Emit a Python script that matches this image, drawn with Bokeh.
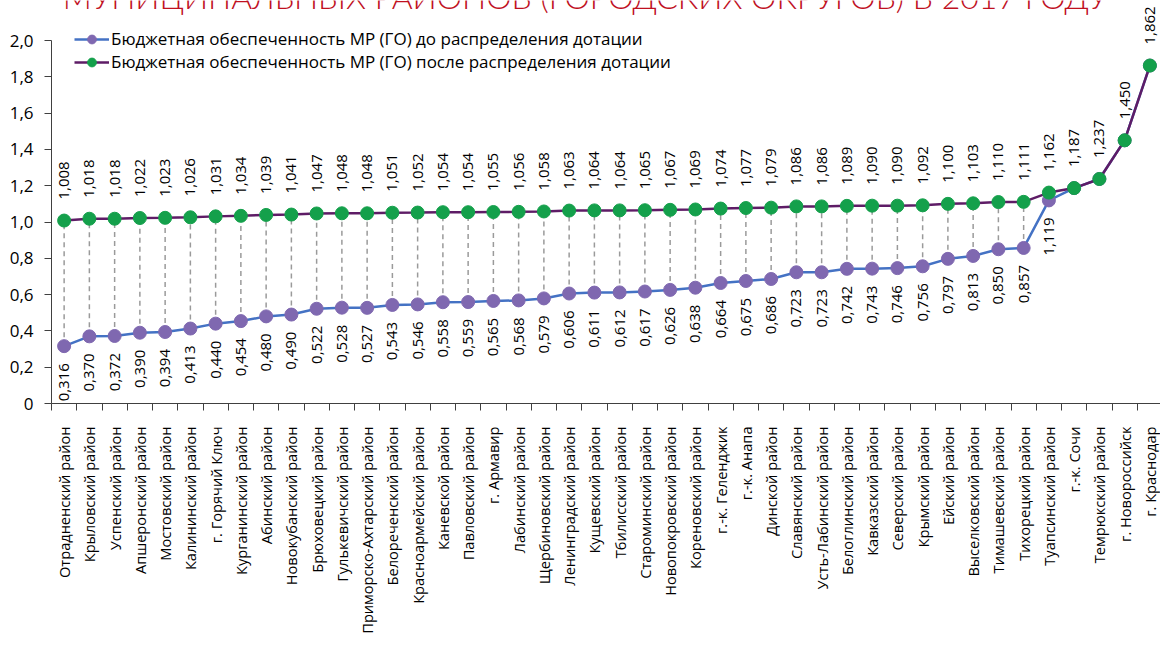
import math
from bokeh.plotting import figure
from bokeh.models import Range1d, FixedTicker, Label, Legend, LegendItem, ColumnDataSource
from bokeh.core.properties import value
from bokeh.embed import file_html
from bokeh.resources import INLINE

# ---------------- data ----------------
categories = [
    "Отрадненский район", "Крыловский район", "Успенский район", "Апшеронский район",
    "Мостовский район", "Калининский район", "г. Горячий Ключ", "Курганинский район",
    "Абинский район", "Новокубанский район", "Брюховецкий район", "Гулькевичский район",
    "Приморско-Ахтарский район", "Белореченский район", "Красноармейский район",
    "Каневской район", "Павловский район", "г. Армавир", "Лабинский район",
    "Щербиновский район", "Ленинградский район", "Кущевский район", "Тбилисский район",
    "Староминский район", "Новопокровский район", "Кореновский район", "г.-к. Геленджик",
    "г.-к. Анапа", "Динской район", "Славянский район", "Усть-Лабинский район",
    "Белоглинский район", "Кавказский район", "Северский район", "Крымский район",
    "Ейский район", "Выселковский район", "Тимашевский район", "Тихорецкий район",
    "Туапсинский район", "г.-к. Сочи", "Темрюкский район", "г. Новороссийск", "г. Краснодар",
]
before = [
    0.316, 0.370, 0.372, 0.390, 0.394, 0.413, 0.440, 0.454, 0.480, 0.490, 0.522,
    0.528, 0.527, 0.543, 0.546, 0.558, 0.559, 0.565, 0.568, 0.579, 0.606, 0.611,
    0.612, 0.617, 0.626, 0.638, 0.664, 0.675, 0.686, 0.723, 0.723, 0.742, 0.743,
    0.746, 0.756, 0.797, 0.813, 0.850, 0.857, 1.119, 1.187, 1.237, 1.450, 1.862,
]
after = [
    1.008, 1.018, 1.018, 1.022, 1.023, 1.026, 1.031, 1.034, 1.039, 1.041, 1.047,
    1.048, 1.048, 1.051, 1.052, 1.054, 1.054, 1.055, 1.056, 1.058, 1.063, 1.064,
    1.064, 1.065, 1.067, 1.069, 1.074, 1.077, 1.079, 1.086, 1.086, 1.089, 1.090,
    1.090, 1.092, 1.100, 1.103, 1.110, 1.111, 1.162, 1.187, 1.237, 1.450, 1.862,
]
y_ticks = [0, 0.2, 0.4, 0.6, 0.8, 1.0, 1.2, 1.4, 1.6, 1.8, 2.0]
y_tick_labels = ["0", "0,2", "0,4", "0,6", "0,8", "1,0", "1,2", "1,4", "1,6", "1,8", "2,0"]
series_names = [
    "Бюджетная обеспеченность МР (ГО) до распределения дотации",
    "Бюджетная обеспеченность МР (ГО) после распределения дотации",
]
title_text = "МУНИЦИПАЛЬНЫХ РАЙОНОВ (ГОРОДСКИХ ОКРУГОВ) В 2017 ГОДУ"
n_before_labels = 40   # "before" labels drawn only where the two series differ

# ---------------- styling ----------------
FONT = "Open Sans"
BLUE_LINE = "#4472c4"
PURPLE_MARK = "#7f68b0"
DARK_LINE = "#5e1c66"
GREEN_MARK = "#14a04b"
AXIS_COL = "#404040"

def fmt(v):
    return f"{v:.3f}".replace(".", ",")

xs = list(range(len(categories)))

W, H = 1160, 662
p = figure(width=W, height=H, output_backend="svg", toolbar_location=None,
           x_range=Range1d(-0.5, 43.42), y_range=Range1d(0, 2.2204),
           min_border_left=51, min_border_right=0, min_border_top=0,
           min_border_bottom=259)
p.outline_line_color = None
p.xgrid.grid_line_color = None
p.ygrid.grid_line_color = None
p.background_fill_color = "white"
p.border_fill_color = "white"

# y axis
yax = p.yaxis[0]
yax.ticker = FixedTicker(ticks=y_ticks)
yax.major_label_overrides = {t: l for t, l in zip(y_ticks, y_tick_labels)}
yax.bounds = (0, 2.0)
yax.axis_line_color = AXIS_COL
yax.major_tick_line_color = AXIS_COL
yax.major_tick_in = 0
yax.major_tick_out = 7
yax.minor_tick_line_color = None
yax.major_label_text_font = FONT
yax.major_label_text_font_size = "17px"
yax.major_label_text_color = "#000000"
yax.major_label_standoff = 11

# x axis
xax = p.xaxis[0]
xax.ticker = FixedTicker(ticks=xs, minor_ticks=[i - 0.5 for i in range(len(categories) + 1)])
xax.major_label_overrides = {i: c for i, c in enumerate(categories)}
xax.major_label_orientation = math.pi / 2
xax.axis_line_color = AXIS_COL
xax.major_tick_line_color = None
xax.major_tick_in = 0
xax.major_tick_out = 0
xax.minor_tick_line_color = AXIS_COL
xax.minor_tick_in = 0
xax.minor_tick_out = 7
xax.major_label_text_font = FONT
xax.major_label_text_font_size = "14.6px"
xax.major_label_text_color = "#000000"
xax.major_label_standoff = 16

src = ColumnDataSource(dict(x=xs, before=before, after=after,
                            bl=[fmt(v) for v in before], al=[fmt(v) for v in after]))

# drop lines
p.segment(x0="x", y0="before", x1="x", y1="after", source=src,
          line_color="#9a9a9a", line_width=1.5, line_dash="5 4")

r1l = p.line("x", "before", source=src, line_color=BLUE_LINE, line_width=2.5)
r1m = p.scatter("x", "before", source=src, size=13, fill_color=PURPLE_MARK,
                line_color=PURPLE_MARK)
r2l = p.line("x", "after", source=src, line_color=DARK_LINE, line_width=2.5)
r2m = p.scatter("x", "after", source=src, size=13, fill_color=GREEN_MARK,
                line_color=GREEN_MARK)

# data labels
src_b = ColumnDataSource(dict(x=xs[:n_before_labels], y=before[:n_before_labels],
                              t=[fmt(v) for v in before[:n_before_labels]]))
p.text("x", "y", text="t", source=src_b, angle=math.pi / 2, text_align="right",
       text_baseline="middle", y_offset=17, text_font=value(FONT),
       text_font_size=value("15px"), text_color="#000000")
p.text("x", "after", text="al", source=src, angle=math.pi / 2, text_align="left",
       text_baseline="middle", y_offset=-21, text_font=value(FONT),
       text_font_size=value("15px"), text_color="#000000")

# legend
legend = Legend(items=[LegendItem(label=series_names[0], renderers=[r1l, r1m]),
                       LegendItem(label=series_names[1], renderers=[r2l, r2m])],
                location=(23, 330), orientation="vertical",
                label_text_font=FONT, label_text_font_size="17px",
                label_text_color="#000000",
                glyph_width=35, glyph_height=22, spacing=0, padding=0, margin=0,
                label_standoff=2, border_line_color=None,
                background_fill_alpha=0)
p.add_layout(legend)

# title (cropped at the top in the source image)
p.add_layout(Label(x=-0.05, y=2.242, text=title_text, text_font="Lato Light",
                   text_font_size="32px", text_color="#c0111f",
                   text_baseline="alphabetic", text_align="left"))

open("out.html", "w").write(file_html(p, INLINE))
